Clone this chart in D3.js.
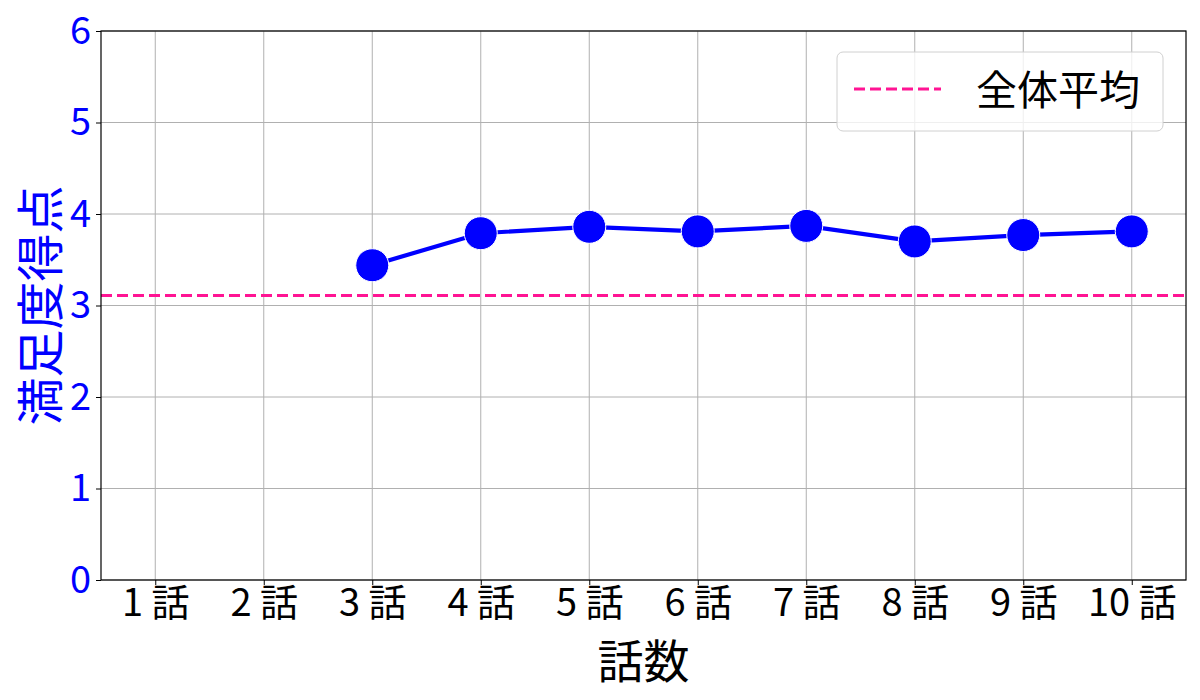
<!DOCTYPE html>
<html>
<head>
<meta charset="utf-8">
<script src="https://cdn.jsdelivr.net/npm/d3@7"></script>
<style>
  body { margin: 0; background: #fff; }
  text { font-family: "Noto Sans CJK JP", "Noto Sans", sans-serif; }
</style>
</head>
<body>
<svg id="chart" width="1200" height="700"></svg>
<script>
// data
var episodes = [1, 2, 3, 4, 5, 6, 7, 8, 9, 10];
var episodeLabels = ["1 話", "2 話", "3 話", "4 話", "5 話", "6 話", "7 話", "8 話", "9 話", "10 話"];
var scoreEpisodes = [3, 4, 5, 6, 7, 8, 9, 10];
var scores = [3.44, 3.79, 3.86, 3.81, 3.87, 3.70, 3.77, 3.81];
var overallMean = 3.11;
var yTicks = [0, 1, 2, 3, 4, 5, 6];

var svg = d3.select("#chart"),
    margin = {left: 101, right: 14, top: 31, bottom: 120},
    width = +svg.attr("width"),
    height = +svg.attr("height");

var x = d3.scaleLinear()
  .domain([0.5, 10.5])
  .range([margin.left, width - margin.right]);

var y = d3.scaleLinear()
  .domain([0, 6])
  .range([height - margin.bottom, margin.top]);

// grid
svg.append("g")
  .selectAll("line.vg")
  .data(episodes)
  .enter().append("line")
  .attr("x1", function(d) { return x(d); })
  .attr("x2", function(d) { return x(d); })
  .attr("y1", y(0)).attr("y2", y(6))
  .attr("stroke", "#b0b0b0").attr("stroke-width", 1);

svg.append("g")
  .selectAll("line.hg")
  .data(yTicks)
  .enter().append("line")
  .attr("y1", function(d) { return y(d); })
  .attr("y2", function(d) { return y(d); })
  .attr("x1", x(0.5)).attr("x2", x(10.5))
  .attr("stroke", "#b0b0b0").attr("stroke-width", 1);

// mean line
svg.append("line")
  .attr("x1", x(0.5)).attr("x2", x(10.5))
  .attr("y1", y(overallMean)).attr("y2", y(overallMean))
  .attr("stroke", "#ff1493").attr("stroke-width", 3)
  .attr("stroke-dasharray", "11,5");

// series line
var pts = scoreEpisodes.map(function(e, i) { return [e, scores[i]]; });
var line = d3.line()
  .x(function(d) { return x(d[0]); })
  .y(function(d) { return y(d[1]); });

svg.append("path")
  .datum(pts)
  .attr("d", line)
  .attr("fill", "none")
  .attr("stroke", "#0000ff")
  .attr("stroke-width", 4.2);

svg.append("g")
  .selectAll("circle")
  .data(pts)
  .enter().append("circle")
  .attr("cx", function(d) { return x(d[0]); })
  .attr("cy", function(d) { return y(d[1]); })
  .attr("r", 16.5)
  .attr("fill", "#0000ff")
  .attr("stroke", "#ffffff")
  .attr("stroke-width", 1);

// frame
svg.append("rect")
  .attr("x", x(0.5)).attr("y", y(6))
  .attr("width", x(10.5) - x(0.5)).attr("height", y(0) - y(6))
  .attr("fill", "none").attr("stroke", "#000").attr("stroke-width", 1.2);

// axes
var xAxis = svg.append("g")
  .attr("transform", "translate(0," + y(0) + ")")
  .call(d3.axisBottom(x).tickValues(episodes)
    .tickFormat(function(d, i) { return episodeLabels[i]; })
    .tickSize(5).tickPadding(4));
xAxis.select(".domain").remove();
xAxis.selectAll("text").attr("font-size", 38).attr("fill", "#000")
  .attr("font-family", "'Noto Sans CJK JP', sans-serif");

var yAxis = svg.append("g")
  .attr("transform", "translate(" + x(0.5) + ",0)")
  .call(d3.axisLeft(y).tickValues(yTicks).tickFormat(d3.format("d"))
    .tickSize(5).tickPadding(5));
yAxis.select(".domain").remove();
yAxis.selectAll("text").attr("font-size", 38).attr("fill", "#0000ff")
  .attr("font-family", "'Noto Sans CJK JP', sans-serif");

// axis titles
svg.append("text")
  .attr("x", (x(0.5) + x(10.5)) / 2)
  .attr("y", 678)
  .attr("text-anchor", "middle")
  .attr("font-size", 46)
  .text("話数");

svg.append("text")
  .attr("transform", "translate(58," + (y(3)) + ") rotate(-90)")
  .attr("text-anchor", "middle")
  .attr("font-size", 48)
  .attr("fill", "#0000ff")
  .text("満足度得点");

// legend
var lg = svg.append("g");
lg.append("rect")
  .attr("x", 837).attr("y", 52).attr("width", 326).attr("height", 79)
  .attr("rx", 6)
  .attr("fill", "#fff").attr("fill-opacity", 0.8)
  .attr("stroke", "#d0d0d0").attr("stroke-width", 1);
lg.append("line")
  .attr("x1", 854).attr("x2", 941).attr("y1", 89).attr("y2", 89)
  .attr("stroke", "#ff1493").attr("stroke-width", 3)
  .attr("stroke-dasharray", "11,5");
lg.append("text")
  .attr("x", 976).attr("y", 105)
  .attr("font-size", 41)
  .text("全体平均");
</script>
</body>
</html>
